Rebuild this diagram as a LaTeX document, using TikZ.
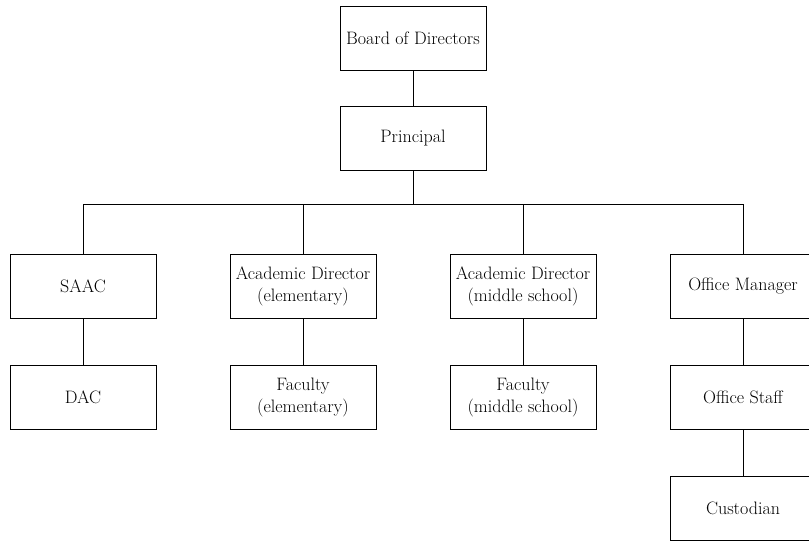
\documentclass[tikz,border=0pt]{standalone}
\usepackage{tikz}

\tikzset{
  orgbox/.style={draw, line width=0.9pt, minimum width=146pt, minimum height=64pt,
    align=center, inner sep=2pt, font=\fontsize{18}{22}\selectfont},
  link/.style={line width=0.9pt}
}

\begin{document}
\begin{tikzpicture}[x=1pt,y=-1pt]
  \path[use as bounding box, clip] (0,0) rectangle (809,542);
  % top of the chart
  \node[orgbox] (board) at (413,38) {Board of Directors};
  \node[orgbox] (principal) at (413,138) {Principal};
  \coordinate (bus) at (413,204);
  % second row
  \node[orgbox] (saac) at (83,286) {SAAC};
  \node[orgbox] (acadel) at (303,286) {Academic Director\\(elementary)};
  \node[orgbox] (acadms) at (523,286) {Academic Director\\(middle school)};
  \node[orgbox] (office) at (743,286) {Office Manager};
  % third row
  \node[orgbox] (dac) at (83,397) {DAC};
  \node[orgbox] (facel) at (303,397) {Faculty\\(elementary)};
  \node[orgbox] (facms) at (523,397) {Faculty\\(middle school)};
  \node[orgbox] (staff) at (743,397) {Office Staff};
  \node[orgbox] (custodian) at (743,508) {Custodian};
  % connectors
  \draw[link] (board) -- (principal);
  \draw[link] (principal) -- (bus);
  \draw[link] (bus -| saac) -- (bus -| office);
  \foreach \n in {saac,acadel,acadms,office}{\draw[link] (bus -| \n) -- (\n.north);}
  \foreach \a/\b in {saac/dac,acadel/facel,acadms/facms,office/staff,staff/custodian}{\draw[link] (\a) -- (\b);}
\end{tikzpicture}
\end{document}
